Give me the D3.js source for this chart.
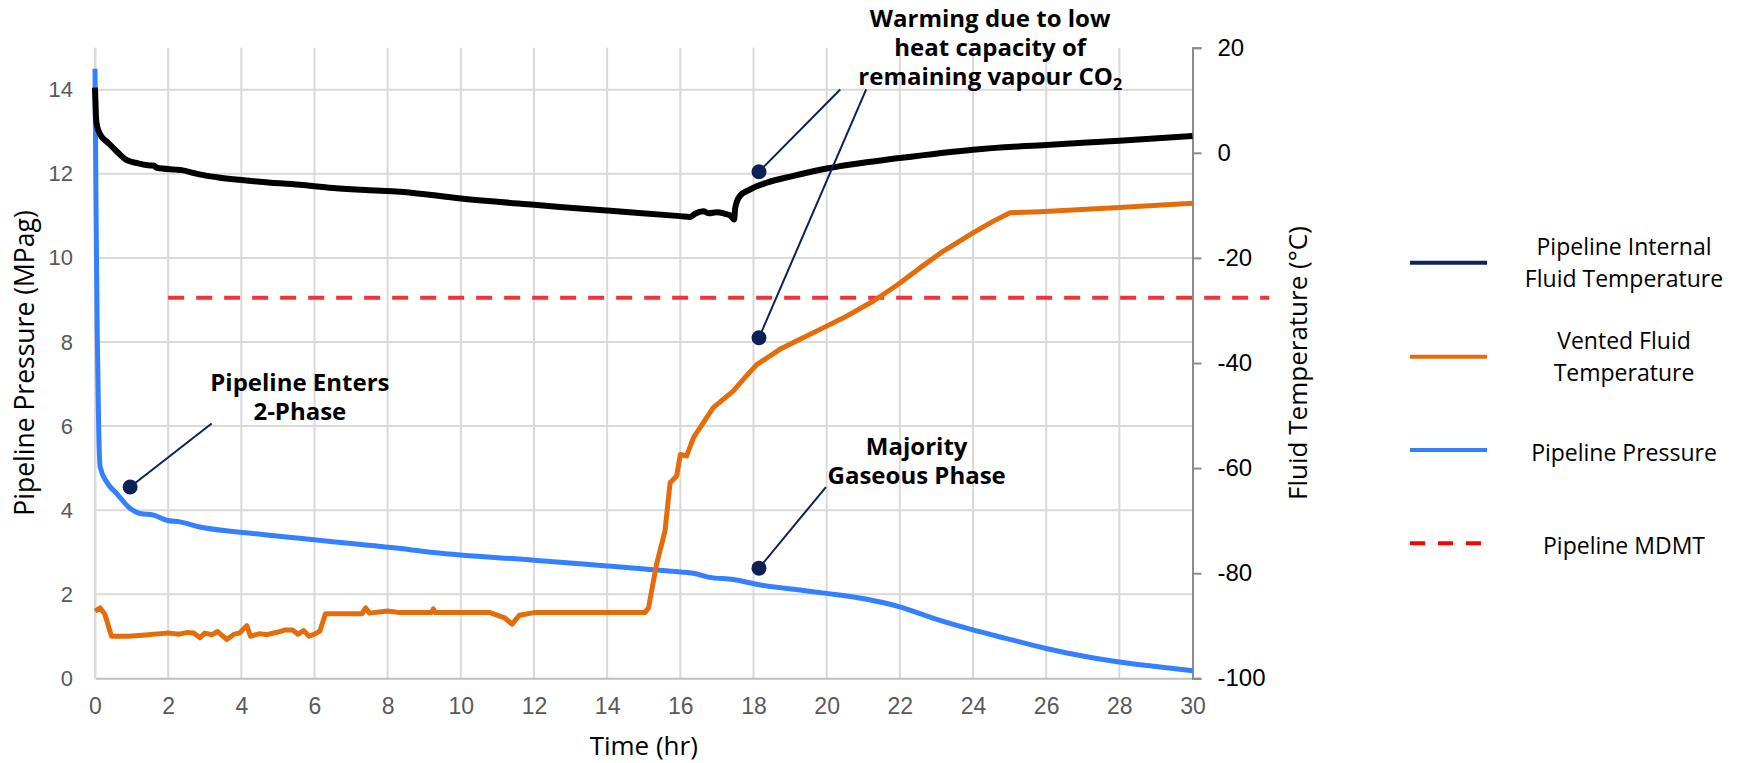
<!DOCTYPE html>
<html>
<head>
<meta charset="utf-8">
<script src="https://cdn.jsdelivr.net/npm/d3@7"></script>
<style>
  body { margin: 0; background: #fff; }
  svg { display: block; font-family: 'Open Sans', sans-serif; }
</style>
</head>
<body>
<svg id="chart" width="1748" height="763"></svg>
<script>
// pipeline pressure, MPag  [time hr, value]
const pressure = [
  [0, 14.5], [0.03, 11], [0.06, 8.28], [0.1, 6], [0.14, 5.03], [0.32, 4.67], [0.59, 4.4],
  [0.91, 4.08], [1.23, 3.92], [1.6, 3.88], [1.96, 3.76], [2.32, 3.72], [2.87, 3.6],
  [3.78, 3.49], [4.7, 3.41], [5.6, 3.33], [6.5, 3.25], [7.4, 3.17], [8.34, 3.09],
  [9.25, 2.99], [12, 2.81], [14, 2.67], [16, 2.53], [16.36, 2.5], [16.8, 2.4],
  [17.45, 2.35], [18.18, 2.22], [19.27, 2.1], [20, 2.02], [21.1, 1.88], [22, 1.7],
  [22.9, 1.43], [24, 1.15], [24.9, 0.95], [26, 0.71], [27, 0.53], [28, 0.39],
  [29, 0.28], [30, 0.18]
];

// pipeline internal fluid temperature, degC
const internalTemp = [
  [0, 12.4], [0.02, 8], [0.04, 5.7], [0.14, 3.5], [0.36, 1.9], [0.59, 0.3], [0.87, -1.4],
  [1.18, -2.0], [1.5, -2.4], [1.6, -2.4], [1.69, -2.85], [2.19, -3.2], [2.37, -3.3],
  [2.73, -3.9], [3.0, -4.3], [3.42, -4.75], [4.5, -5.5], [5.6, -6.1], [6.5, -6.7],
  [7.4, -7.1], [8.34, -7.4], [10, -8.7], [12, -9.9], [12.71, -10.3], [14, -11.0],
  [16, -12.05], [16.27, -12.2], [16.4, -11.6], [16.63, -11.1], [16.77, -11.5],
  [17.0, -11.3], [17.22, -11.6], [17.36, -11.9], [17.47, -12.7], [17.5, -10.5],
  [17.63, -8.2], [17.9, -7.0], [18.36, -5.7], [19.09, -4.4], [20, -3.0], [22, -1.0],
  [24, 0.6], [26, 1.5], [28, 2.3], [30, 3.2]
];

// vented fluid temperature, degC
const ventedTemp = [
  [0, -87.2], [0.14, -86.6], [0.27, -87.8], [0.45, -92], [0.9, -92], [1.3, -91.8],
  [1.8, -91.5], [2.0, -91.4], [2.3, -91.6], [2.5, -91.3], [2.7, -91.4], [2.87, -92.3],
  [3.0, -91.4], [3.2, -91.7], [3.35, -91.1], [3.6, -92.6], [3.8, -91.6], [3.95, -91.4],
  [4.15, -90], [4.25, -92], [4.5, -91.5], [4.7, -91.7], [5.0, -91.2], [5.2, -90.8],
  [5.4, -90.8], [5.55, -91.6], [5.7, -90.9], [5.85, -92], [6.0, -91.6], [6.15, -91],
  [6.3, -87.7], [7.3, -87.7], [7.4, -86.6], [7.5, -87.6], [8.0, -87.2],
  [8.34, -87.5], [9.2, -87.5], [9.25, -86.8], [9.3, -87.5], [10.8, -87.5], [11.2, -88.5],
  [11.4, -89.7], [11.6, -88], [12, -87.5], [15.03, -87.5], [15.13, -86.6], [15.35, -78.3],
  [15.58, -72], [15.72, -62.8], [15.9, -61.5], [16.0, -57.4], [16.17, -57.7],
  [16.36, -54.2], [16.9, -48.5], [17.45, -45.3], [17.8, -42.5], [18.09, -40.3],
  [18.72, -37.4], [19.27, -35.5], [19.82, -33.6], [20.46, -31.4], [21.28, -28.2],
  [21.92, -25.2], [22.55, -21.9], [23.19, -18.7], [24.01, -15.2], [24.56, -13.0],
  [25.01, -11.4], [25.83, -11.2], [28, -10.4], [30, -9.6]
];

// pipeline MDMT (degC), drawn from/to these times
const mdmt = [[2, -27.6], [32.1, -27.6]];

const timeTicks = d3.range(0, 31, 2);
const pressureTicks = d3.range(0, 15, 2);
const tempTicks = d3.range(-100, 21, 20);

const legendItems = ['Pipeline Internal|Fluid Temperature', 'Vented Fluid|Temperature', 'Pipeline Pressure', 'Pipeline MDMT'];

// annotations: text centre [hr, value], leaders from text to dot [hr, value]
const annotations = [
  {lines: ['Pipeline Enters', '2-Phase'], text: [5.6, 7.02], axis: 'p',
    leaders: [{from: [3.19, 6.06], to: [0.96, 4.55]}]},
  {lines: ['Majority', 'Gaseous Phase'], text: [22.46, 5.5], axis: 'p',
    leaders: [{from: [19.98, 4.55], to: [18.15, 2.62]}]},
  {lines: ['Warming due to low', 'heat capacity of', 'remaining vapour CO_2'], text: [24.47, 25.4], axis: 't',
    leaders: [{from: [20.37, 12.06], to: [18.15, -3.6]}, {from: [21.08, 12.06], to: [18.15, -35.2]}]}
];

const svg = d3.select('#chart');
const plotLeft = 95, plotRight = 1192.5, plotTop = 47.7, plotBottom = 678.3;

const x = d3.scaleLinear().domain([0, 30]).range([plotLeft, plotRight]);
const yP = d3.scaleLinear().domain([0, 15]).range([plotBottom, plotTop]);
const yT = d3.scaleLinear().domain([-100, 20]).range([plotBottom, plotTop]);

const navy = '#0c2157';
const plain = d => String(d);

// grid
const grid = svg.append('g');
grid.selectAll('.vg').data(timeTicks.filter(d => d < 30)).enter().append('line')
  .attr('x1', d => x(d)).attr('x2', d => x(d)).attr('y1', plotTop).attr('y2', plotBottom)
  .attr('stroke', '#d9d9d9').attr('stroke-width', 2);
grid.selectAll('.hg').data(pressureTicks.filter(d => d > 0)).enter().append('line')
  .attr('x1', plotLeft).attr('x2', plotRight).attr('y1', d => yP(d)).attr('y2', d => yP(d))
  .attr('stroke', '#d9d9d9').attr('stroke-width', 2);

// bottom axis
const xAxis = svg.append('g').attr('transform', `translate(0,${plotBottom})`)
  .call(d3.axisBottom(x).tickValues(timeTicks).tickFormat(plain).tickSize(0).tickPadding(19));
xAxis.select('.domain').attr('stroke', '#bfbfbf').attr('stroke-width', 2);
xAxis.selectAll('text').attr('fill', '#595959').style('font-size', '23px');

// left axis
const yAxisL = svg.append('g').attr('transform', `translate(${plotLeft},0)`)
  .call(d3.axisLeft(yP).tickValues(pressureTicks).tickFormat(plain).tickSize(0).tickPadding(22));
yAxisL.select('.domain').attr('stroke', '#d9d9d9').attr('stroke-width', 2);
yAxisL.selectAll('text').attr('fill', '#595959').style('font-size', '22px');

// right axis
const yAxisR = svg.append('g').attr('transform', `translate(${plotRight},0)`)
  .call(d3.axisRight(yT).tickValues(tempTicks).tickFormat(plain).tickSize(9).tickPadding(16));
yAxisR.select('.domain').attr('stroke', '#8c8c8c').attr('stroke-width', 2);
yAxisR.selectAll('line').attr('stroke', '#8c8c8c').attr('stroke-width', 2);
yAxisR.selectAll('text').attr('fill', '#000').style('font-size', '24px');

// axis titles
svg.append('text').attr('x', (plotLeft + plotRight) / 2).attr('y', 745)
  .attr('text-anchor', 'middle').attr('dominant-baseline', 'central')
  .style('font-size', '26px').text('Time (hr)');
svg.append('text').attr('transform', `translate(24,${(plotTop + plotBottom) / 2}) rotate(-90)`)
  .attr('text-anchor', 'middle').attr('dominant-baseline', 'central')
  .style('font-size', '26.5px').text('Pipeline Pressure (MPag)');
svg.append('text').attr('transform', `translate(1297,${(plotTop + plotBottom) / 2}) rotate(-90)`)
  .attr('text-anchor', 'middle').attr('dominant-baseline', 'central')
  .style('font-size', '26px').text('Fluid Temperature (°C)');

// series
const lineP = d3.line().x(d => x(d[0])).y(d => yP(d[1])).curve(d3.curveMonotoneX);
const lineT = d3.line().x(d => x(d[0])).y(d => yT(d[1]));

svg.append('path').datum(mdmt).attr('d', lineT).attr('fill', 'none')
  .attr('stroke', '#f0323e').attr('stroke-width', 4).attr('stroke-dasharray', '16,12');
svg.append('path').datum(pressure).attr('d', lineP).attr('fill', 'none')
  .attr('stroke', '#3580ff').attr('stroke-width', 5).attr('stroke-linejoin', 'round');
svg.append('path').datum(ventedTemp).attr('d', lineT).attr('fill', 'none')
  .attr('stroke', '#e46c0a').attr('stroke-width', 5).attr('stroke-linejoin', 'round');
svg.append('path').datum(internalTemp).attr('d', lineT.curve(d3.curveMonotoneX)).attr('fill', 'none')
  .attr('stroke', '#000').attr('stroke-width', 6).attr('stroke-linejoin', 'round');

// annotations, one text element per note with a tspan per line
annotations.forEach(function (a) {
  const y = a.axis === 'p' ? yP : yT;
  a.leaders.forEach(function (l) {
    svg.append('line')
      .attr('x1', x(l.from[0])).attr('y1', y(l.from[1]))
      .attr('x2', x(l.to[0])).attr('y2', y(l.to[1]))
      .attr('stroke', navy).attr('stroke-width', 2);
    svg.append('circle').attr('cx', x(l.to[0])).attr('cy', y(l.to[1])).attr('r', 7.5).attr('fill', navy);
  });
  const tx = x(a.text[0]), ty = y(a.text[1]);
  const txt = svg.append('text').attr('text-anchor', 'middle')
    .style('font-size', '24px').style('font-weight', 'bold');
  a.lines.forEach(function (t, i) {
    const parts = t.split('_');
    txt.append('tspan').attr('x', tx).attr('y', ty + i * 29 + 8).text(parts[0]);
    if (parts[1]) {
      txt.append('tspan').attr('dy', 5).style('font-size', '16px').text(parts[1]);
    }
  });
});

// legend
const legendY = [262.7, 356.7, 450, 543.3];
const legendColors = ['#0f2557', '#e46c0a', '#3580ff', '#ff0000'];
const legend = svg.append('g');
legendItems.forEach(function (item, i) {
  legend.append('line').attr('x1', 1410).attr('x2', 1487)
    .attr('y1', legendY[i]).attr('y2', legendY[i])
    .attr('stroke', legendColors[i]).attr('stroke-width', 4)
    .attr('stroke-dasharray', i === 3 ? '15,13' : null);
  const rows = item.split('|');
  const t = legend.append('text').attr('text-anchor', 'middle').style('font-size', '23px');
  rows.forEach(function (r, j) {
    t.append('tspan').attr('x', 1624)
      .attr('y', legendY[i] + (rows.length === 1 ? 3 : (j - 0.5) * 32) + 8)
      .text(r);
  });
});
</script>
</body>
</html>
